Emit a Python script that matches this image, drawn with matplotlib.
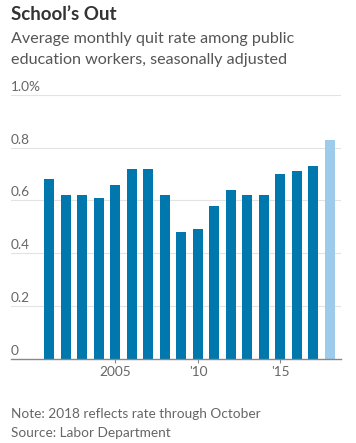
import matplotlib.pyplot as plt

years = list(range(2001, 2019))
quit_rate = [0.68, 0.62, 0.62, 0.61, 0.66, 0.72, 0.72, 0.62, 0.48,
             0.49, 0.58, 0.64, 0.62, 0.62, 0.70, 0.71, 0.73, 0.83]
y_ticks = [0, 0.2, 0.4, 0.6, 0.8, 1.0]
y_labels = ["0", "0.2", "0.4", "0.6", "0.8", "1.0%"]
x_ticks = [2005, 2010, 2015]
x_labels = ["2005", "'10", "'15"]

plt.rcParams["font.family"] = ["Lato", "DejaVu Sans"]

W, H = 356, 443
fig = plt.figure(figsize=(W / 100, H / 100), dpi=100)
ax = fig.add_axes([11 / W, (H - 358.7) / H, 330 / W, (358.7 - 95) / H])

# last year is partial (through October), so it gets the lighter colour
colors = ["#0077ad"] * (len(years) - 1) + ["#9ccbeb"]
ax.bar(years, quit_rate, width=0.6, color=colors, zorder=2)

ax.set_xlim(1998.67, 2018.67)
ax.set_ylim(0, 1.0)

for v, lab in zip(y_ticks, y_labels):
    if v > 0:
        ax.axhline(v, color="#e3e3e3", lw=0.8, zorder=1)
    ax.text(0, v + 0.008, lab, transform=ax.get_yaxis_transform(),
            ha="left", va="bottom", fontsize=9.8, color="#666666")

ax.set_yticks([])
ax.set_xticks(x_ticks)
ax.set_xticklabels(x_labels, fontsize=9.8, color="#666666")
ax.tick_params(axis="x", length=3, width=0.8, color="#888888", pad=2)

for s in ["top", "right", "left"]:
    ax.spines[s].set_visible(False)
ax.spines["bottom"].set_color("#888888")
ax.spines["bottom"].set_linewidth(1.0)
ax.spines["bottom"].set_zorder(3)

fig.text(11 / W, 1 - 20 / H, "School\u2019s Out", fontsize=13.5,
         fontweight="bold", color="#333333", ha="left", va="baseline")
fig.text(11 / W, 1 - 42.7 / H, "Average monthly quit rate among public",
         fontsize=11.6, color="#555555", ha="left", va="baseline")
fig.text(11 / W, 1 - 64 / H, "education workers, seasonally adjusted",
         fontsize=11.6, color="#555555", ha="left", va="baseline")
fig.text(11 / W, 1 - 417.7 / H, "Note: 2018 reflects rate through October",
         fontsize=9.8, color="#666666", ha="left", va="baseline")
fig.text(11 / W, 1 - 437 / H, "Source: Labor Department",
         fontsize=9.8, color="#666666", ha="left", va="baseline")

fig.savefig("out.png", dpi=100, facecolor="white")
